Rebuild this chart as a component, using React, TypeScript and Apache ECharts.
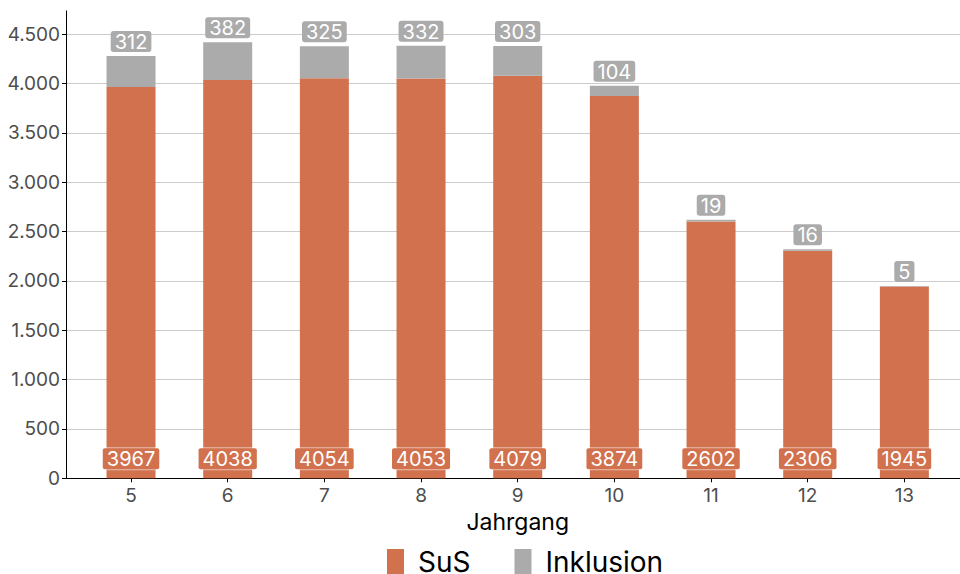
import React, { useEffect, useRef } from "react";
import * as echarts from "echarts";

const years = ["5", "6", "7", "8", "9", "10", "11", "12", "13"];
const susValues = [3967, 4038, 4054, 4053, 4079, 3874, 2602, 2306, 1945];
const inklusionValues = [312, 382, 325, 332, 303, 104, 19, 16, 5];
const yTicks = [0, 500, 1000, 1500, 2000, 2500, 3000, 3500, 4000, 4500];

const FONT = "Inter, 'Liberation Sans', Arial, sans-serif";
const ORANGE = "#D1714E";
const GRAY = "#ABABAB";

function fmtDe(v: number): string {
  const s = String(Math.round(v));
  return s.replace(/\B(?=(\d{3})+(?!\d))/g, ".");
}

export default function App() {
  const ref = useRef<HTMLDivElement>(null);
  useEffect(() => {
    if (!ref.current) return;
    const chart = echarts.init(ref.current, undefined, { renderer: "svg" });
    const yMin = yTicks[0];
    const yMax = yTicks[yTicks.length - 1];
    const option: any = {
      animation: false,
      backgroundColor: "#ffffff",
      textStyle: { fontFamily: FONT },
      grid: [
        { left: 66, right: 0, top: 34.3, bottom: 95.7, containLabel: false },
        { left: 82.7, right: 7.3, top: 34.3, bottom: 95.7, containLabel: false },
      ],
      legend: {
        top: 548,
        left: 387,
        padding: 0,
        icon: "rect",
        itemWidth: 17,
        itemHeight: 26,
        itemGap: 44,
        textStyle: {
          fontSize: 28,
          lineHeight: 26,
          color: "#000000",
          fontFamily: FONT,
          padding: [0, 0, 0, 9],
        },
        data: ["SuS", "Inklusion"],
      },
      xAxis: [
        {
          gridIndex: 0,
          type: "value",
          min: 0,
          max: 1,
          axisLine: { show: true, lineStyle: { color: "#000000", width: 1 } },
          axisTick: { show: false },
          axisLabel: { show: false },
          splitLine: { show: false },
        },
        {
          gridIndex: 1,
          type: "category",
          data: years,
          boundaryGap: true,
          name: "Jahrgang",
          nameLocation: "middle",
          nameGap: 25,
          nameTextStyle: { fontSize: 23, color: "#000000", fontFamily: FONT },
          axisLine: { show: false },
          axisTick: { show: true, alignWithLabel: true, length: 4, lineStyle: { color: "#000000" } },
          axisLabel: { fontSize: 19, color: "#4D4D4D", margin: 8, fontFamily: FONT },
          splitLine: { show: false },
        },
      ],
      yAxis: [
        {
          gridIndex: 0,
          type: "value",
          min: yMin,
          max: yMax,
          interval: 500,
          axisLine: { show: true, lineStyle: { color: "#000000", width: 1 } },
          axisTick: { show: true, length: 4, lineStyle: { color: "#000000" } },
          axisLabel: {
            fontSize: 19,
            color: "#4D4D4D",
            margin: 6,
            fontFamily: FONT,
            formatter: (v: number) => fmtDe(v),
          },
          splitLine: { show: true, lineStyle: { color: "#CCCCCC", width: 1 } },
        },
        {
          gridIndex: 1,
          type: "value",
          min: yMin,
          max: yMax,
          interval: 500,
          show: false,
          splitLine: { show: false },
        },
      ],
      graphic: [
        {
          type: "line",
          shape: { x1: 66.5, y1: 10.5, x2: 66.5, y2: 35 },
          style: { stroke: "#000000", lineWidth: 1 },
          silent: true,
        },
      ],
      series: [
        {
          name: "SuS",
          type: "bar",
          xAxisIndex: 1,
          yAxisIndex: 1,
          stack: "total",
          barWidth: 49,
          itemStyle: { color: ORANGE },
          data: susValues,
          label: {
            show: true,
            position: "insideBottom",
            distance: 9,
            color: "#ffffff",
            fontSize: 20,
            fontFamily: FONT,
            backgroundColor: ORANGE,
            borderColor: "rgba(255,255,255,0.55)",
            borderWidth: 1,
            borderRadius: 2,
            padding: [1, 4, 0, 4],
          },
        },
        {
          name: "Inklusion",
          type: "bar",
          xAxisIndex: 1,
          yAxisIndex: 1,
          stack: "total",
          barWidth: 49,
          itemStyle: { color: GRAY },
          data: inklusionValues,
          label: {
            show: true,
            position: "top",
            distance: 4,
            color: "#ffffff",
            fontSize: 20,
            fontFamily: FONT,
            backgroundColor: GRAY,
            borderRadius: 3,
            padding: [1, 4, 0, 4],
          },
        },
      ],
    };
    chart.setOption(option);
    return () => chart.dispose();
  }, []);
  return (
    <div
      ref={ref}
      style={{ position: "fixed", left: 0, top: 0, width: 960, height: 574, background: "#fff" }}
    />
  );
}
